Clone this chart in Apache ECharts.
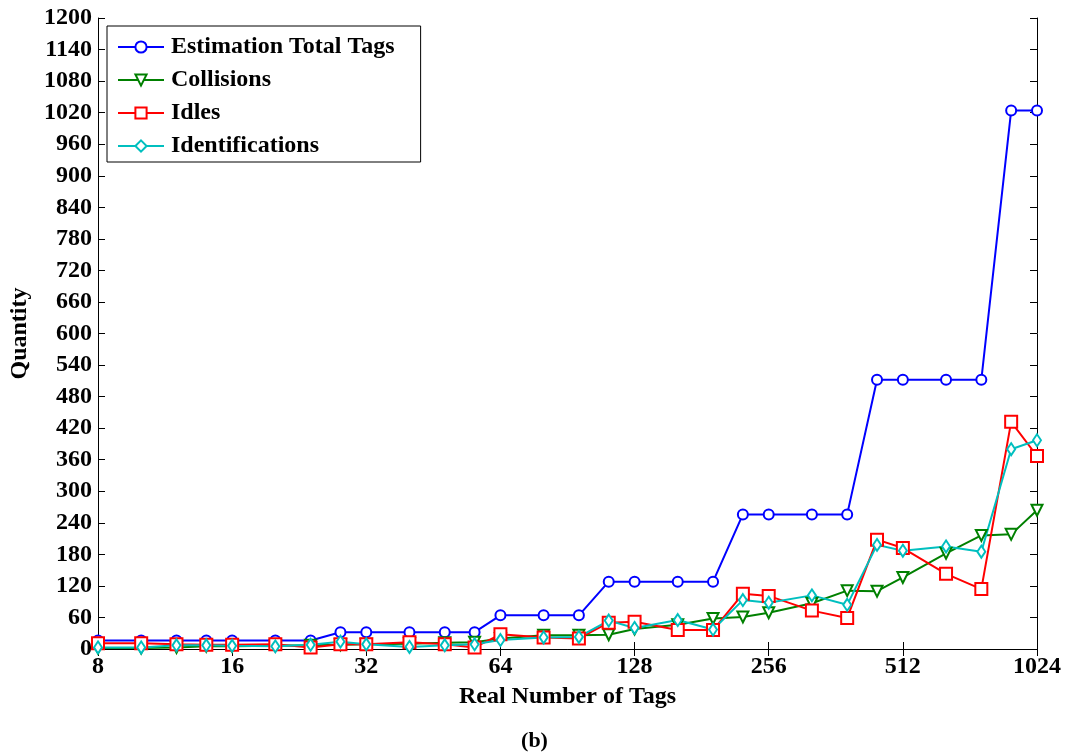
<!DOCTYPE html>
<html>
<head>
<meta charset="utf-8">
<script src="https://cdn.jsdelivr.net/npm/echarts@6/dist/echarts.min.js"></script>
<style>
html,body{margin:0;padding:0;background:#fff;}
#c{width:1069px;height:753px;}
</style>
</head>
<body>
<div id="c"></div>
<script>
var tags = [8,10,12,14,16,20,24,28,32,40,48,56,64,80,96,112,128,160,192,224,256,320,384,448,512,640,768,896,1024];
var estimation = [16,16,16,16,16,16,16,32,32,32,32,32,64,64,64,128,128,128,128,256,256,256,256,512,512,512,512,1024,1024];
var collisions = [2,2,3,5,5,6,7,8,9,10,12,13,20,26,26,27,38,46,58,61,69,87,111,110,136,182,216,218,264];
var idles = [11,11,9,8,8,9,3,9,9,13,9,3,28,22,20,50,52,36,36,105,101,73,59,208,192,143,114,432,367];
var identifications = [3,3,7,7,6,5,8,14,9,4,7,9,17,22,23,54,40,55,37,93,88,102,84,198,187,195,185,380,397];
var xTicks = [8,16,32,64,128,256,512,1024];
var seriesNames = ['Estimation Total Tags','Collisions','Idles','Identifications'];

function pairs(v){ return tags.map(function(t,i){ return [t, v[i]]; }); }

var font = 'Liberation Serif';
var chart = echarts.init(document.getElementById('c'), null, {renderer:'canvas'});
var xBase = {
  type:'log', logBase:2, min:8, max:1024,
  axisLine:{show:true, lineStyle:{color:'#000', width:1}},
  axisTick:{show:true, inside:true, length:7, lineStyle:{color:'#000'}},
  splitLine:{show:false}, minorTick:{show:false}
};
var yBase = {
  type:'value', min:0, max:1200, interval:60,
  axisLine:{show:true, lineStyle:{color:'#000', width:1}},
  axisTick:{show:true, inside:true, length:7, lineStyle:{color:'#000'}},
  splitLine:{show:false}
};
function mk(name, data, color, symbol, size, rot){
  return {
    name:name, type:'line', data:pairs(data), xAxisIndex:0, yAxisIndex:0,
    symbol:symbol, symbolSize:size, symbolRotate:rot||0, showAllSymbol:true,
    lineStyle:{color:color, width:2}, itemStyle:{color:color, borderWidth:2},
    animation:false
  };
}
chart.setOption({
  animation:false,
  backgroundColor:'#fff',
  grid:{left:98, right:32, top:18, bottom:104, show:false},
  legend:{
    orient:'vertical', left:107, top:26,
    padding:[9,26,4,10], itemGap:9, itemWidth:46, itemHeight:14,
    backgroundColor:'#fff', borderColor:'#000', borderWidth:1,
    textStyle:{fontFamily:font, fontWeight:'bold', fontSize:24, color:'#000', padding:[0,0,0,2]},
    data:seriesNames
  },
  xAxis:[
    Object.assign({}, xBase, {position:'bottom',
      name:'Real Number of Tags', nameLocation:'middle', nameGap:36,
      nameTextStyle:{fontFamily:font, fontWeight:'bold', fontSize:24, color:'#000'},
      axisLabel:{show:true, fontFamily:font, fontWeight:'bold', fontSize:24, color:'#000', margin:6,
        formatter:function(v){ return String(Math.round(v)); }}
    }),
    Object.assign({}, xBase, {position:'top', axisLabel:{show:false}})
  ],
  yAxis:[
    Object.assign({}, yBase, {position:'left',
      name:'Quantity', nameLocation:'middle', nameGap:66, nameRotate:90,
      nameTextStyle:{fontFamily:font, fontWeight:'bold', fontSize:24, color:'#000'},
      axisLabel:{show:true, fontFamily:font, fontWeight:'bold', fontSize:24, color:'#000', margin:6,
        formatter:function(v){ return String(v); }}
    }),
    Object.assign({}, yBase, {position:'right', axisLabel:{show:false}})
  ],
  title:{text:'(b)', left:'center', bottom:-4,
    textStyle:{fontFamily:font, fontWeight:'bold', fontSize:22, color:'#000'}},
  series:[
    mk(seriesNames[0], estimation, '#0000ff', 'emptyCircle', 10),
    mk(seriesNames[1], collisions, '#008000', 'emptyTriangle', 11, 180),
    mk(seriesNames[2], idles, '#ff0000', 'emptyRect', 12),
    mk(seriesNames[3], identifications, '#00bfbf', 'emptyDiamond', [8,12])
  ]
});
</script>
</body>
</html>
